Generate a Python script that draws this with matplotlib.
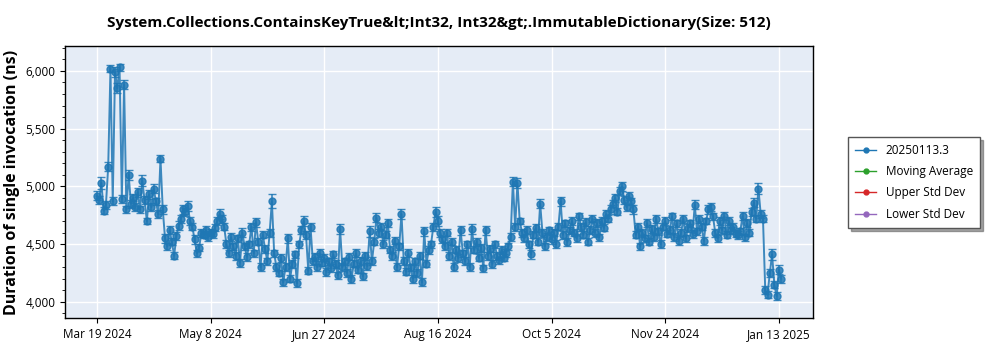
import numpy as np
import pandas as pd
import matplotlib
matplotlib.use("Agg")
import matplotlib.pyplot as plt
from matplotlib.lines import Line2D
from matplotlib.ticker import FuncFormatter, MultipleLocator

plt.rcParams['font.family'] = ['Open Sans', 'DejaVu Sans']

title = "System.Collections.ContainsKeyTrue&lt;Int32, Int32&gt;.ImmutableDictionary(Size: 512)"
ylabel = "Duration of single invocation (ns)"
series_names = ["20250113.3", "Moving Average", "Upper Std Dev", "Lower Std Dev"]
series_colors = ["#1f77b4", "#2ca02c", "#d62728", "#9467bd"]

start_date = "2024-03-19"

# one run per day, ns
durations = [
    4920, 4880, 5030, 4790, 4840, 5170, 6020, 4870, 5990, 5850,
    6030, 4890, 5880, 4800, 5100, 4850, 4900, 4820, 4950, 4800,
    5050, 4880, 4700, 4930, 4820, 4980, 4870, 4760, 5240, 4800,
    4550, 4480, 4620, 4520, 4400, 4570, 4660, 4720, 4800, 4780,
    4830, 4700, 4650, 4540, 4420, 4470, 4600, 4580, 4620, 4560,
    4600, 4590, 4640, 4700, 4760, 4720, 4650, 4500, 4420, 4560,
    4480, 4400, 4550, 4340, 4600, 4480, 4390, 4500, 4650, 4420,
    4690, 4520, 4300, 4580, 4460, 4350, 4600, 4870, 4420, 4300,
    4250, 4380, 4170, 4300, 4550, 4200, 4330, 4410, 4160, 4500,
    4620, 4700, 4580, 4270, 4650, 4350, 4390, 4300, 4420, 4340,
    4380, 4260, 4350, 4290, 4410, 4330, 4230, 4630, 4300, 4350,
    4250, 4390, 4200, 4330, 4420, 4280, 4350, 4220, 4400, 4310,
    4610, 4350, 4520, 4730, 4600, 4650, 4500, 4580, 4680, 4450,
    4400, 4530, 4300, 4480, 4760, 4350, 4260, 4420, 4300, 4200,
    4350, 4250, 4400, 4170, 4610, 4330, 4450, 4500, 4650, 4780,
    4700, 4600, 4540, 4480, 4600, 4400, 4520, 4300, 4450, 4380,
    4620, 4420, 4350, 4500, 4300, 4630, 4450, 4520, 4380, 4470,
    4290, 4620, 4400, 4460, 4330, 4500, 4400, 4360, 4450, 4380,
    4420, 4480, 4560, 5040, 4650, 5030, 4700, 4600, 4550, 4620,
    4500, 4410, 4580, 4640, 4520, 4850, 4600, 4480, 4560, 4620,
    4540, 4600, 4500, 4650, 4870, 4580, 4680, 4520, 4620, 4700,
    4600, 4550, 4740, 4650, 4580, 4690, 4520, 4620, 4720, 4600,
    4680, 4560, 4700, 4640, 4760, 4720, 4800, 4850, 4900, 4780,
    4960, 5000, 4880, 4820, 4920, 4870, 4800, 4580, 4650, 4480,
    4600, 4550, 4680, 4520, 4630, 4560, 4720, 4610, 4500, 4650,
    4700, 4590, 4620, 4740, 4560, 4680, 4530, 4600, 4720, 4550,
    4640, 4680, 4590, 4840, 4610, 4720, 4650, 4530, 4700, 4800,
    4820, 4740, 4600, 4550, 4700, 4620, 4740, 4580, 4700, 4620,
    4650, 4590, 4580, 4610, 4740, 4560, 4680, 4600, 4780, 4860,
    4720, 4980, 4760, 4720, 4100, 4060, 4250, 4410, 4150, 4050,
    4280, 4200,
]

# error bar half-widths, ns
errors = [
    40, 35, 50, 30, 35, 40, 30, 35, 40, 45,
    30, 35, 40, 30, 45, 35, 30, 35, 40, 30,
    45, 35, 30, 40, 35, 40, 30, 35, 30, 35,
    40, 30, 35, 30, 30, 35, 40, 35, 40, 35,
    40, 35, 30, 35, 30, 30, 35, 30, 35, 30,
    30, 35, 30, 35, 40, 35, 30, 35, 30, 35,
    30, 35, 30, 35, 40, 30, 35, 30, 35, 30,
    40, 30, 35, 30, 35, 30, 35, 60, 30, 35,
    30, 35, 30, 35, 40, 30, 35, 30, 35, 30,
    35, 40, 35, 30, 35, 30, 35, 30, 35, 30,
    30, 35, 30, 35, 30, 35, 30, 40, 35, 30,
    35, 30, 35, 30, 35, 30, 35, 30, 35, 30,
    45, 35, 30, 40, 35, 30, 35, 30, 35, 30,
    35, 30, 35, 30, 45, 35, 30, 35, 30, 35,
    30, 35, 30, 35, 40, 30, 35, 30, 35, 45,
    40, 35, 30, 35, 30, 35, 30, 35, 30, 35,
    40, 30, 35, 30, 35, 40, 30, 35, 30, 35,
    30, 40, 35, 30, 35, 30, 35, 30, 35, 30,
    35, 30, 35, 40, 35, 40, 30, 35, 30, 35,
    30, 35, 30, 35, 30, 40, 35, 30, 35, 30,
    35, 30, 35, 30, 40, 35, 30, 35, 30, 35,
    30, 35, 30, 35, 30, 35, 30, 35, 30, 35,
    35, 30, 35, 30, 35, 30, 35, 30, 35, 30,
    35, 40, 35, 30, 35, 30, 35, 30, 35, 30,
    35, 30, 35, 30, 35, 30, 35, 30, 35, 30,
    35, 30, 35, 30, 35, 30, 35, 30, 35, 30,
    35, 30, 35, 40, 30, 35, 30, 35, 30, 35,
    35, 30, 35, 30, 35, 30, 35, 30, 35, 30,
    35, 30, 35, 30, 35, 30, 35, 30, 35, 40,
    30, 45, 35, 30, 35, 30, 35, 45, 30, 35,
    40, 35,
]

dates = pd.date_range(start_date, periods=len(durations), freq="D")

fig = plt.figure(figsize=(10, 3.5), dpi=100)
ax = fig.add_axes([0.065, 0.0914, 0.748, 0.777])
ax.set_facecolor("#e5ecf6")

ax.errorbar(dates, durations, yerr=errors, color=series_colors[0], marker="o",
            markersize=5, linewidth=1.4, alpha=0.85, elinewidth=1.2, capsize=3,
            ecolor=series_colors[0], zorder=3)

ax.set_xlim(pd.Timestamp("2024-03-05"), pd.Timestamp("2025-01-28"))
ax.set_ylim(3860, 6215)
tick_dates = pd.date_range("2024-03-19", "2025-01-13", freq="50D")
ax.set_xticks(tick_dates)
ax.set_xticklabels([f"{d.strftime('%b')} {d.day} {d.year}" for d in tick_dates])
ax.yaxis.set_major_locator(MultipleLocator(500))
ax.yaxis.set_minor_locator(MultipleLocator(100))
ax.yaxis.set_major_formatter(FuncFormatter(lambda v, p: f"{int(v):,}"))
ax.tick_params(labelsize=8.5)
ax.grid(True, color="white", linewidth=1, zorder=0)
ax.set_axisbelow(True)
for s in ax.spines.values():
    s.set_color("black")
    s.set_linewidth(1)

ax.set_title(title, fontsize=11, fontweight="bold", pad=14)
ax.set_ylabel(ylabel, fontsize=11.5, fontweight="bold")

# legend: only the first series has data
handles = [Line2D([], [], color=c, marker="o", markersize=3.5, linewidth=1)
           for c in series_colors]
leg = fig.legend(handles, series_names, loc="upper left",
                 bbox_to_anchor=(0.842, 0.626), fontsize=8.5,
                 fancybox=False, shadow=True, edgecolor="#555555", framealpha=1,
                 handlelength=1.8, borderpad=0.6, labelspacing=0.7)

fig.savefig("out.png", dpi=100)
